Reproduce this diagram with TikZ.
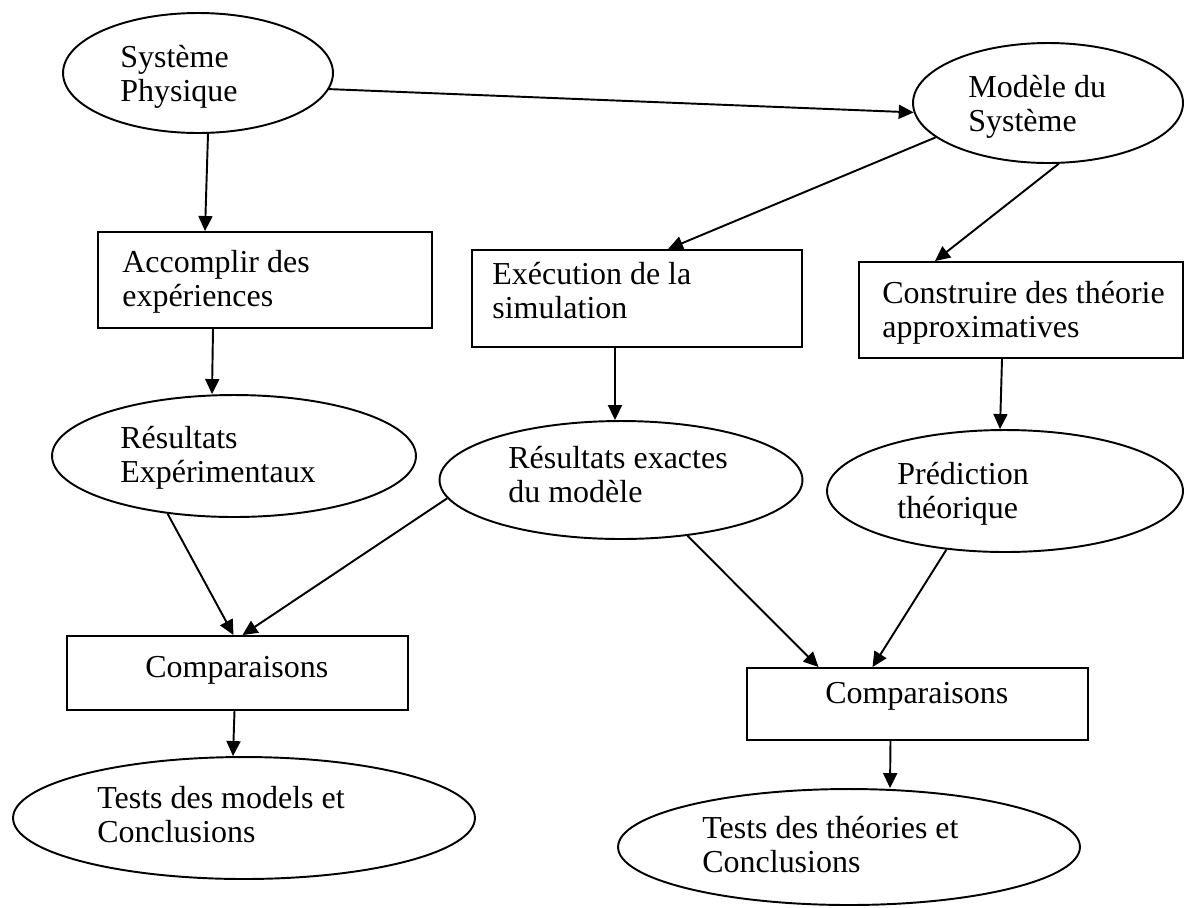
\documentclass[tikz,border=0pt]{standalone}
\usepackage{fontspec}
\setmainfont{Liberation Serif}
\usetikzlibrary{shapes.geometric,arrows.meta,calc}
\newcommand\twol[2]{\begin{tabular}[t]{@{}l@{}}#1\\#2\end{tabular}}
\tikzset{
  ell/.style={draw, ellipse, line width=1.1pt, inner sep=0pt},
  box/.style={draw, rectangle, line width=1.1pt, inner sep=0pt},
  lbl/.style={anchor=base west, inner sep=0pt, font=\fontsize{18.2}{19.9}\selectfont},
  arr/.style={line width=1.1pt, -{Triangle[length=0.3cm,width=0.28cm]}}
}
\begin{document}
\begin{tikzpicture}[x=0.02cm,y=-0.02cm]
\useasboundingbox[fill=white] (0,0) rectangle (1185,907);

% shapes
\node[ell, minimum width=5.4cm, minimum height=2.4cm] (sys) at (198,73) {};
\node[ell, minimum width=5.4cm, minimum height=2.4cm] (mod) at (1048,103) {};
\node[box, minimum width=6.68cm, minimum height=1.92cm] (acc) at (265,280) {};
\node[box, minimum width=6.6cm, minimum height=1.94cm] (exe) at (637,298.5) {};
\node[box, minimum width=6.48cm, minimum height=1.92cm] (con) at (1021,310) {};
\node[ell, minimum width=7.28cm, minimum height=2.44cm] (rexp) at (234,456) {};
\node[ell, minimum width=7.26cm, minimum height=2.36cm] (rex) at (621,480) {};
\node[ell, minimum width=7.12cm, minimum height=2.44cm] (pred) at (1005,491) {};
\node[box, minimum width=6.82cm, minimum height=1.48cm] (cmpL) at (237.5,673) {};
\node[box, minimum width=6.82cm, minimum height=1.44cm] (cmpR) at (917.5,704) {};
\node[ell, minimum width=9.24cm, minimum height=2.44cm] (tstL) at (244,818) {};
\node[ell, minimum width=9.24cm, minimum height=2.32cm] (tstR) at (849,847) {};

% labels
\node[lbl] (tsys) at (120,67) {\twol{Système}{Physique}};
\node[lbl] (tmod) at (968,97) {\twol{Modèle du}{Système}};
\node[lbl] (tacc) at (122,272) {\twol{Accomplir des}{expériences}};
\node[lbl] (texe) at (492,284) {\twol{Exécution de la}{simulation}};
\node[lbl] (tcon) at (882,303) {\twol{Construire des théorie}{approximatives}};
\node[lbl] (trexp) at (120,448) {\twol{Résultats}{Expérimentaux}};
\node[lbl] (trex) at (508,468) {\twol{Résultats exactes}{du modèle}};
\node[lbl] (tpred) at (897,484) {\twol{Prédiction}{théorique}};
\node[lbl] (tcmpL) at (145,677) {Comparaisons};
\node[lbl] (tcmpR) at (825,703) {Comparaisons};
\node[lbl] (ttstL) at (97,808) {\twol{Tests des models et}{Conclusions}};
\node[lbl] (ttstR) at (702,838) {\twol{Tests des théories et}{Conclusions}};

% connectors
\draw[arr] ($(sys.south)+(10,0)$) -- ($(acc.north)+(-60,0)$);
\draw[arr] (sys.-7) -- (mod.184);
\draw[arr] (mod.197) -- ($(exe.north)+(31,0)$);
\draw[arr] (mod.-80) -- ($(con.north)+(-86,0)$);
\draw[arr] ($(acc.south)+(-52,0)$) -- ($(rexp.north)+(-22,0)$);
\draw[arr] ($(exe.south)+(-22,0)$) -- ($(rex.north)+(-6,0)$);
\draw[arr] ($(con.south)+(-19,0)$) -- ($(pred.north)+(-5,0)$);
\draw[arr] (rexp.221) -- ($(cmpL.north)+(-4,0)$);
\draw[arr] (rex.186) -- ($(cmpL.north)+(5,0)$);
\draw[arr] (rex.-40) -- ($(cmpR.north)+(-99,0)$);
\draw[arr] (pred.225) -- ($(cmpR.north)+(-45,0)$);
\draw[arr] ($(cmpL.south)+(-3,0)$) -- ($(tstL.north)+(-11,0)$);
\draw[arr] ($(cmpR.south)+(-27,0)$) -- ($(tstR.north)+(41,0)$);
\end{tikzpicture}
\end{document}
